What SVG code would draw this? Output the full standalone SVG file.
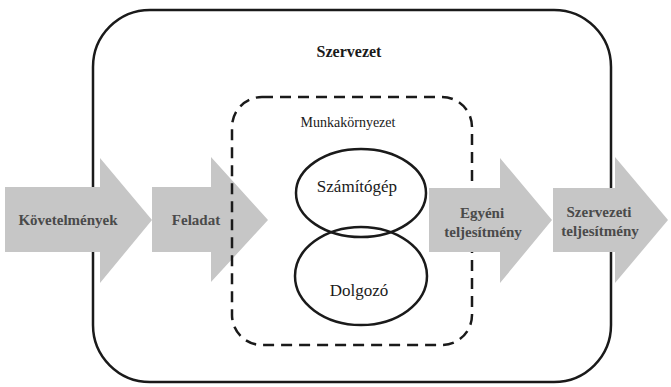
<svg xmlns="http://www.w3.org/2000/svg" width="671" height="387" viewBox="0 0 671 387">
<style>
.frame{fill:none;stroke:#1a1a1a;stroke-width:2.5}
.dash{fill:none;stroke:#1a1a1a;stroke-width:2.5;stroke-dasharray:11 7}
.arrow{fill:#c6c6c6;stroke:none}
.ell{fill:none;stroke:#1a1a1a;stroke-width:2.5}
text{font-family:'Liberation Serif','Times New Roman',serif}
.atext{font-weight:bold;font-size:15px;fill:#4a4a4a;text-anchor:middle}
.ntext{fill:#1a1a1a;text-anchor:middle}
</style>
<rect width="671" height="387" fill="#ffffff"/>
<g id="szervezet">
<rect class="frame" x="93" y="10" width="518" height="372" rx="57" ry="57"/>
<text class="ntext" x="349" y="57" font-size="16" font-weight="bold">Szervezet</text>
</g>
<g id="kovetelmenyek">
<polygon class="arrow" points="5,187 100,187 100,158 152,220 100,283 100,252 5,252"/>
<text class="atext" x="68" y="225">Követelmények</text>
</g>
<g id="feladat">
<polygon class="arrow" points="152,187 211,187 211,157 268,220 211,282 211,252 152,252"/>
<text class="atext" x="196" y="225">Feladat</text>
</g>
<g id="munkakornyezet">
<rect class="dash" x="232" y="97" width="240" height="248" rx="30" ry="30"/>
<text class="ntext" x="348" y="127" font-size="14">Munkakörnyezet</text>
</g>
<g id="szamitogep">
<ellipse class="ell" cx="361" cy="193" rx="65" ry="44"/>
<text class="ntext" x="357" y="192" font-size="17">Számítógép</text>
</g>
<g id="dolgozo">
<ellipse class="ell" cx="361" cy="276" rx="66" ry="49"/>
<text class="ntext" x="359" y="296" font-size="17">Dolgozó</text>
</g>
<g id="egyeni">
<polygon class="arrow" points="429,188 500,188 500,158 552,220 500,283 500,252 429,252"/>
<text class="atext" x="482" y="218">Egyéni</text>
<text class="atext" x="483" y="237">teljesítmény</text>
</g>
<g id="szervezeti">
<polygon class="arrow" points="553,188 615,188 615,157 668,220 615,283 615,252 553,252"/>
<text class="atext" x="599" y="217">Szervezeti</text>
<text class="atext" x="600" y="236">teljesítmény</text>
</g>
<g id="connectors"></g>
</svg>
